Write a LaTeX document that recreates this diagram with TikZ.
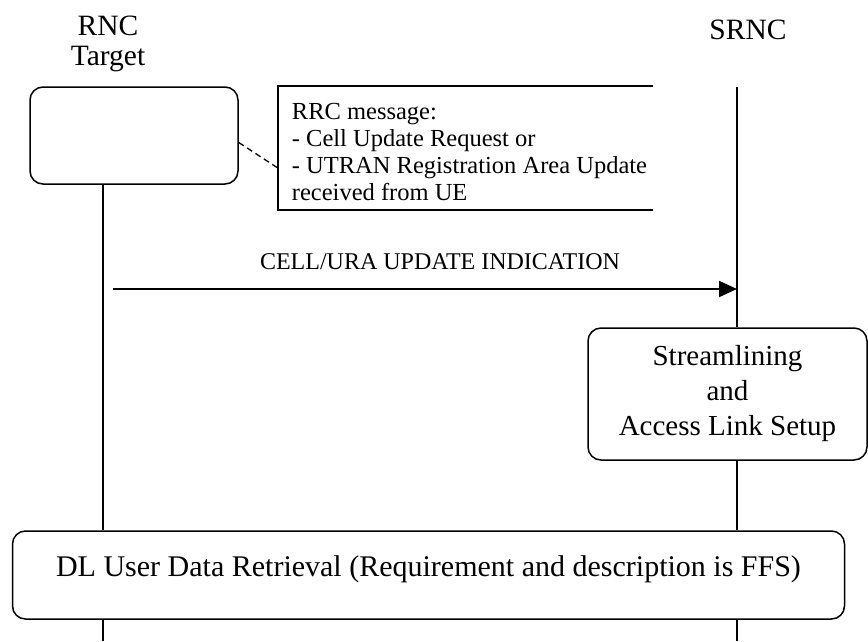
\documentclass[tikz,border=0pt]{standalone}
\usepackage{fontspec}
\setmainfont{Liberation Serif}
\usetikzlibrary{calc,arrows.meta}
\begin{document}
\begin{tikzpicture}[x=1pt,y=1pt,
  box/.style={draw, line width=1.5pt, rounded corners=13pt},
  lifeline/.style={line width=1.3pt},
  msg/.style={line width=2pt, -{Triangle[length=18pt,width=16pt]}},
  lbl/.style={font=\fontsize{29.5}{31}\selectfont, inner sep=0pt, anchor=base},
  notetext/.style={align=left, inner sep=0pt, font=\fontsize{24.5}{27.3}\selectfont},
  msglbl/.style={font=\fontsize{24}{26}\selectfont, inner sep=0pt},
  boxtext/.style={font=\fontsize{29}{35}\selectfont, align=center},
]
\useasboundingbox (0,0) rectangle (868,-641);

% headers
\node[lbl] (rnc) at (108,-35) {RNC};
\node[lbl] (tgt) at (108,-65) {Target};
\node[lbl] (srnc) at (748,-39) {SRNC};

% boxes
\node[box, minimum width=208pt, minimum height=97pt] (target) at (134,-135.5) {};
\node[minimum width=375pt, minimum height=124pt, inner sep=0pt] (note) at (465.5,-148) {};
\node[notetext] (notet) at (469.5,-152) {RRC message:\\- Cell Update Request or\\- UTRAN Registration Area Update\\received from UE};
\draw[line width=1.5pt] (note.north east) -- (note.north west) -- (note.south west) -- (note.south east);
\draw[line width=1.3pt, dash pattern=on 6pt off 4pt] ($(target.east)+(0,-7)$) -- ($(note.west)+(0,-20)$);

\node[box, boxtext, minimum width=279pt, minimum height=132pt] (stream) at (727.5,-394) {Streamlining\\and\\Access Link Setup};

\node[box, minimum width=832pt, minimum height=88pt] (dl) at (428.5,-575) {};
\node[font=\fontsize{30}{32}\selectfont, anchor=base, inner sep=0pt] (dltext) at (428.5,-576) {DL User Data Retrieval (Requirement and description is FFS)};

% lifelines
\coordinate (lbot) at (103,-641);
\coordinate (rtop) at (737,-87);
\coordinate (rbot) at (737,-641);
\draw[lifeline] (lbot |- target.south) -- (lbot |- dl.north);
\draw[lifeline] (lbot |- dl.south) -- (lbot);
\draw[lifeline] (rtop) -- (rtop |- stream.north);
\draw[lifeline] (rtop |- stream.south) -- (rtop |- dl.north);
\draw[lifeline] (rtop |- dl.south) -- (rbot);

% message
\coordinate (msgstart) at (113,-289);
\draw[msg] (msgstart) -- (msgstart -| rtop);
\node[msglbl, anchor=base] (msgl) at (440,-269) {CELL/URA UPDATE INDICATION};
\end{tikzpicture}
\end{document}
